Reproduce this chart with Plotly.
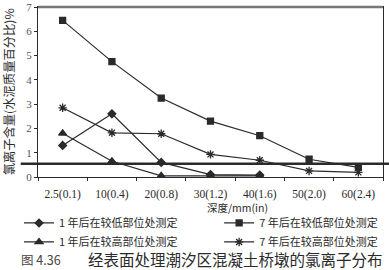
import plotly.graph_objects as go

categories = ["2.5(0.1)", "10(0.4)", "20(0.8)", "30(1.2)", "40(1.6)", "50(2.0)", "60(2.4)"]

s1_name = "1 年后在较低部位处测定"
s1_vals = [1.3, 2.6, 0.6, 0.1, 0.08]
s2_name = "1 年后在较高部位处测定"
s2_vals = [1.8, 0.65, 0.05, 0.05, 0.05]
s3_name = "7 年后在较低部位处测定"
s3_vals = [6.45, 4.75, 3.25, 2.3, 1.7, 0.73, 0.4]
s4_name = "7 年后在较高部位处测定"
s4_vals = [2.85, 1.82, 1.78, 0.93, 0.69, 0.25, 0.19]

threshold = 0.55

y_title = "氯离子含量(水泥质量百分比)%"
x_title = "深度/mm(in)"
caption_num = "图 4.36"
caption = "经表面处理潮汐区混凝土桥墩的氯离子分布"

serif = "Liberation Serif, DejaVu Serif, serif"
cjk = "Noto Sans CJK SC, Noto Sans CJK JP, sans-serif"
ink = "#2a2a2a"

fig = go.Figure()

def add(name, vals, symbol, size, legend):
    fig.add_trace(go.Scatter(
        x=categories[:len(vals)], y=vals, name=name, mode="lines+markers",
        line=dict(color=ink, width=1.2),
        marker=dict(symbol=symbol, size=size, color=ink,
                    line=dict(color=ink, width=1.3)),
        legend=legend,
    ))

add(s1_name, s1_vals, "diamond", 6, "legend")
add(s2_name, s2_vals, "triangle-up", 7, "legend")
add(s3_name, s3_vals, "square", 6, "legend2")
add(s4_name, s4_vals, "asterisk-open", 7, "legend2")

fig.add_shape(type="line", xref="paper", yref="y", x0=-0.05, x1=1.02,
              y0=threshold, y1=threshold, line=dict(color=ink, width=2.5))
fig.add_shape(type="line", xref="paper", yref="paper", x0=0, x1=1,
              y0=1, y1=1, line=dict(color="#777777", width=2.5))

leg_common = dict(orientation="v", yanchor="top", y=-0.185, xanchor="left",
                  font=dict(family=cjk, size=11, color=ink), itemwidth=30,
                  tracegroupgap=0, bgcolor="rgba(0,0,0,0)")

fig.update_layout(
    width=389, height=270,
    margin=dict(l=38, r=6, t=7, b=93, autoexpand=False),
    paper_bgcolor="white", plot_bgcolor="white",
    font=dict(family=serif, size=11, color=ink),
    showlegend=True,
    legend=dict(x=-0.055, **leg_common),
    legend2=dict(x=0.525, **leg_common),
    xaxis=dict(type="category", categoryorder="array", categoryarray=categories,
               range=[-0.5, 6.5], showgrid=False, showline=True, linecolor=ink,
               linewidth=1, mirror=True, ticks="outside", ticklen=3,
               tickson="boundaries", tickcolor=ink, ticklabelstandoff=6,
               tickfont=dict(family=serif, size=11.5, color=ink)),
    yaxis=dict(range=[0, 7], dtick=1, showgrid=False, showline=True,
               linecolor=ink, linewidth=1, mirror=True, ticks="outside",
               ticklen=3, tickcolor=ink, zeroline=False,
               tickfont=dict(family=serif, size=11, color="#555555")),
)

fig.add_annotation(text=y_title, xref="paper", yref="paper", x=-0.083, y=0.5,
                   xanchor="center", yanchor="middle",
                   textangle=-90, showarrow=False,
                   font=dict(family=cjk, size=12.3, color=ink))
fig.add_annotation(text=x_title, xref="paper", yref="paper", x=0.577, y=-0.178,
                   xanchor="center", yanchor="middle",
                   showarrow=False, font=dict(family=cjk, size=10.5, color=ink))
fig.add_annotation(text=caption_num, xref="paper", yref="paper", x=-0.055, y=-0.485,
                   xanchor="left", yanchor="middle", showarrow=False,
                   font=dict(family=cjk, size=12.5, color="#444444"))
fig.add_annotation(text=caption, xref="paper", yref="paper", x=1.005, y=-0.485,
                   xanchor="right", yanchor="middle", showarrow=False,
                   font=dict(family=cjk, size=15.5, color=ink))

fig.write_html("out.html")
